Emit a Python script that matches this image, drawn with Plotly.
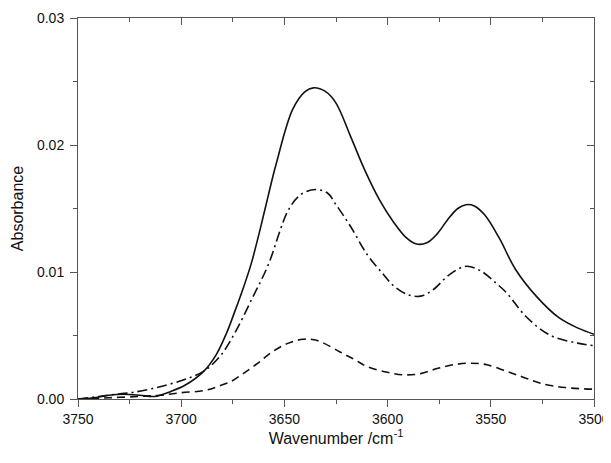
import plotly.graph_objects as go

# Solid curve
w_solid = [3750, 3742, 3735, 3728, 3720, 3713, 3705, 3698, 3689, 3683, 3678, 3674, 3670,
           3666, 3662, 3658, 3654, 3646, 3640, 3636, 3630, 3625, 3618, 3611, 3604, 3597,
           3591, 3586, 3581, 3576, 3571, 3566, 3562, 3558, 3553, 3546, 3538, 3528, 3517,
           3508, 3500]
a_solid = [0.0000, 0.0001, 0.0003, 0.00037, 0.0003, 0.0002, 0.0006, 0.0011, 0.0022, 0.0035,
           0.0052, 0.0069, 0.0087, 0.0107, 0.0132, 0.0159, 0.0185, 0.0228, 0.0242, 0.0245,
           0.0242, 0.0233, 0.0207, 0.0180, 0.0157, 0.0139, 0.0127, 0.0122, 0.0123, 0.0130,
           0.0141, 0.0150, 0.0153, 0.0152, 0.0145, 0.0127, 0.0102, 0.0081, 0.0064, 0.0056,
           0.0051]

# Dash-dot curve
w_dashdot = [3750, 3740, 3730, 3723, 3712, 3699, 3689, 3681, 3674, 3666, 3658, 3648, 3642,
             3635, 3629, 3625, 3618, 3610, 3602, 3597, 3590, 3584, 3578, 3570, 3562, 3555,
             3548, 3542, 3533, 3521, 3508, 3500]
a_dashdot = [0.0000, 0.0002, 0.0004, 0.00053, 0.0009, 0.0015, 0.0022, 0.0034, 0.0052, 0.0078,
             0.0105, 0.0149, 0.0161, 0.0165, 0.0162, 0.0153, 0.0136, 0.0114, 0.0098, 0.0089,
             0.0082, 0.0081, 0.0086, 0.0098, 0.01045, 0.0101, 0.0092, 0.0083, 0.0065, 0.0050,
             0.0044, 0.0042]

# Dashed curve
w_dashed = [3750, 3735, 3720, 3710, 3700, 3689, 3682, 3676, 3670, 3663, 3656, 3648, 3641,
            3634, 3623, 3616, 3610, 3600, 3592, 3584, 3576, 3568, 3560, 3552, 3542, 3534,
            3526, 3514, 3500]
a_dashed = [0.0000, 0.0001, 0.0002, 0.0003, 0.0005, 0.00066, 0.0010, 0.00137, 0.0020, 0.0028,
            0.0037, 0.0044, 0.0047, 0.0046, 0.0037, 0.0031, 0.00255, 0.0021, 0.0019, 0.0020,
            0.0024, 0.0027, 0.00282, 0.0027, 0.00216, 0.0017, 0.00124, 0.0009, 0.00077]

x_ticks = [3750, 3700, 3650, 3600, 3550, 3500]
y_ticks = [0.00, 0.01, 0.02, 0.03]
y_tick_labels = ["0.00", "0.01", "0.02", "0.03"]

line_col = "#111111"
axis_col = "#555555"
font = dict(family="Liberation Sans, Arial, sans-serif", size=14, color="#111111")

fig = go.Figure()
fig.add_trace(go.Scatter(x=w_solid, y=a_solid, mode="lines",
                         line=dict(color=line_col, width=1.6, shape="spline", smoothing=1.0),
                         showlegend=False, hoverinfo="skip"))
fig.add_trace(go.Scatter(x=w_dashdot, y=a_dashdot, mode="lines",
                         line=dict(color=line_col, width=1.6, shape="spline", smoothing=1.0,
                                   dash="10px,4px,2px,4px"),
                         showlegend=False, hoverinfo="skip"))
fig.add_trace(go.Scatter(x=w_dashed, y=a_dashed, mode="lines",
                         line=dict(color=line_col, width=1.6, shape="spline", smoothing=1.0,
                                   dash="8px,5px"),
                         showlegend=False, hoverinfo="skip"))
# invisible trace to anchor the mirrored (inside-tick) axes
fig.add_trace(go.Scatter(x=[3750], y=[0], xaxis="x2", yaxis="y2", mode="markers",
                         marker=dict(opacity=0), showlegend=False, hoverinfo="skip"))

common = dict(showgrid=False, zeroline=False, showline=True, linecolor=axis_col,
              linewidth=1, tickcolor=axis_col, tickwidth=1, automargin=False)

# the page body adds an 8px offset; figure is sized so the plot area lands at 78..594 x 18..399
fig.update_layout(
    width=603, height=455, autosize=False,
    margin=dict(l=70, r=17, t=10, b=64),
    paper_bgcolor="white", plot_bgcolor="white",
    font=font,
    xaxis=dict(range=[3750, 3500], tickmode="array", tickvals=x_ticks,
               ticktext=[str(v) for v in x_ticks], ticks="outside", ticklen=7,
               minor=dict(dtick=25, tick0=3500, ticks="outside", ticklen=4,
                          tickcolor=axis_col, tickwidth=1),
               title=dict(text="Wavenumber /cm<sup>-1</sup>", font=dict(size=16), standoff=2),
               ticklabelstandoff=0, **common),
    yaxis=dict(range=[0, 0.03], tickmode="array", tickvals=y_ticks,
               ticktext=y_tick_labels, ticks="outside", ticklen=7,
               minor=dict(dtick=0.005, tick0=0, ticks="outside", ticklen=4,
                          tickcolor=axis_col, tickwidth=1),
               title=dict(text="Absorbance", font=dict(size=16), standoff=9),
               ticklabelstandoff=3, **common),
    xaxis2=dict(range=[3750, 3500], overlaying="x", side="top", anchor="y2",
                tickmode="array", tickvals=x_ticks, showticklabels=False,
                ticks="inside", ticklen=7,
                minor=dict(dtick=25, tick0=3500, ticks="inside", ticklen=4,
                           tickcolor=axis_col, tickwidth=1),
                **common),
    yaxis2=dict(range=[0, 0.03], overlaying="y", side="right", anchor="x2",
                tickmode="array", tickvals=y_ticks, showticklabels=False,
                ticks="inside", ticklen=7,
                minor=dict(dtick=0.005, tick0=0, ticks="inside", ticklen=4,
                           tickcolor=axis_col, tickwidth=1),
                **common),
)

fig.write_html("out.html")
